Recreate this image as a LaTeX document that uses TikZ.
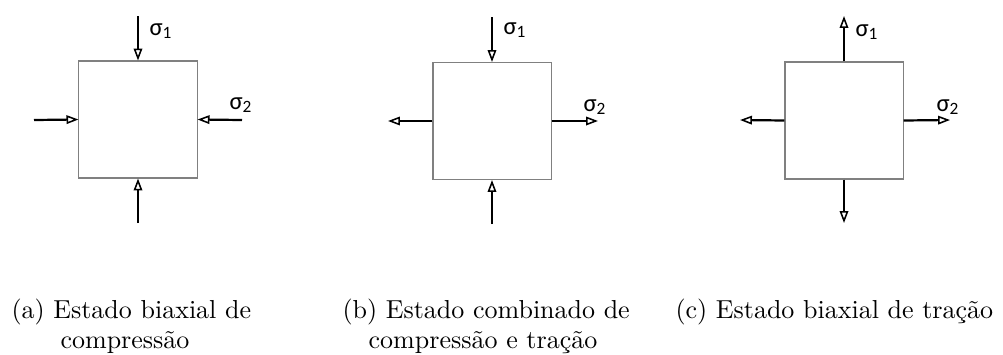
\documentclass[tikz,border=0pt]{standalone}
\usepackage{fontspec}
\newfontfamily\carlito{Carlito}
\usepackage{tikz}
\usetikzlibrary{arrows.meta, positioning}

\begin{document}
\begin{tikzpicture}[x=0.3846pt, y=-0.3846pt]
        \tikzstyle{box_style} = [rectangle, minimum width=45.4pt, minimum height=45pt, inner sep=0pt, draw=black!50, line width=0.4pt]
        \tikzstyle{arrow_style} = [line width=0.85pt, -{Triangle[open, length=4.6pt, width=3.3pt, line width=0.6pt]}]
        \tikzstyle{sigma_style} = [anchor=base west, inner sep=0pt, font=\carlito\fontsize{9.5}{11}\selectfont]
        \tikzstyle{caption_style} = [inner sep=0pt, font=\normalsize]

        \useasboundingbox (0,0) rectangle (1003,354);

        % (a) compression in both directions
        \node (box_a) [box_style] at (138,119.5) {};
        \coordinate (a_top) at (138,16);
        \coordinate (a_bot) at (138,223);
        \coordinate (a_left) at (34,120);
        \coordinate (a_right) at (242,120);
        \draw [arrow_style] (a_top) -- (box_a.north);
        \draw [arrow_style] (a_bot) -- (box_a.south);
        \draw [arrow_style] (a_left) -- (box_a.west);
        \draw [arrow_style] (a_right) -- (box_a.east);
        \node (s1_a) [sigma_style] at (149,35) {σ\textsubscript{1}};
        \node (s2_a) [sigma_style] at (229,109) {σ\textsubscript{2}};

        % (b) compression and tension
        \node (box_b) [box_style] at (492,121) {};
        \coordinate (b_top) at (492,17);
        \coordinate (b_bot) at (492,224);
        \coordinate (b_left) at (388,121);
        \coordinate (b_right) at (598,121);
        \draw [arrow_style] (b_top) -- (box_b.north);
        \draw [arrow_style] (b_bot) -- (box_b.south);
        \draw [arrow_style] (box_b.west) -- (b_left);
        \draw [arrow_style] (box_b.east) -- (b_right);
        \node (s1_b) [sigma_style] at (503,34) {σ\textsubscript{1}};
        \node (s2_b) [sigma_style] at (583,111) {σ\textsubscript{2}};

        % (c) tension in both directions
        \node (box_c) [box_style] at (844,120.5) {};
        \coordinate (c_top) at (844,16);
        \coordinate (c_bot) at (844,223);
        \coordinate (c_left) at (740,120);
        \coordinate (c_right) at (950,120);
        \draw [arrow_style] (box_c.north) -- (c_top);
        \draw [arrow_style] (box_c.south) -- (c_bot);
        \draw [arrow_style] (box_c.west) -- (c_left);
        \draw [arrow_style] (box_c.east) -- (c_right);
        \node (s1_c) [sigma_style] at (855,36) {σ\textsubscript{1}};
        \node (s2_c) [sigma_style] at (936,111) {σ\textsubscript{2}};

        % Captions
        \node (cap_a1) [caption_style, anchor=base west] at (11,318) {(a) Estado biaxial de};
        \node (cap_a2) [caption_style, anchor=base] at (125,348) {compressão};
        \node (cap_b1) [caption_style, anchor=base west] at (342,318) {(b) Estado combinado de};
        \node (cap_b2) [caption_style, anchor=base] at (483,348) {compressão e tração};
        \node (cap_c1) [caption_style, anchor=base west] at (675,318) {(c) Estado biaxial de tração};
    \end{tikzpicture}
\end{document}
